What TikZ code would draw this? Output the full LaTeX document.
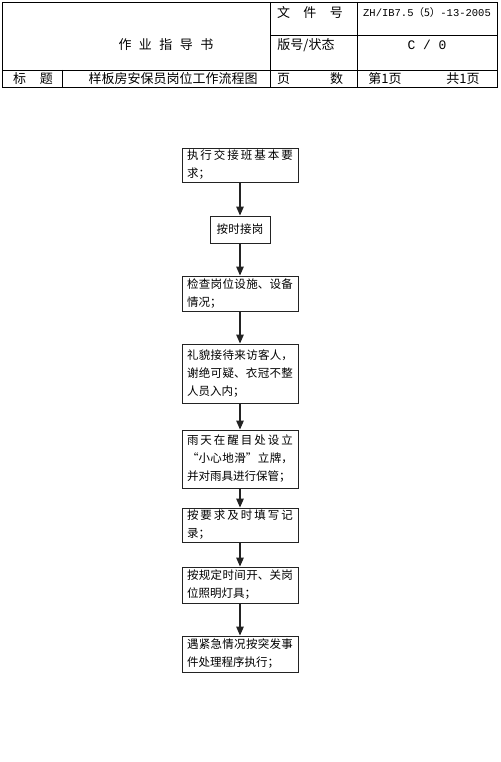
\documentclass[tikz,border=0pt]{standalone}
\usepackage{fontspec}
\setmainfont{Noto Sans CJK SC}
\setmonofont{Liberation Mono}
\XeTeXlinebreaklocale "zh"
\XeTeXlinebreakskip=0pt plus 3pt
\usetikzlibrary{positioning,arrows.meta}
\definecolor{boxgray}{RGB}{35,35,35}

\begin{document}
\begin{tikzpicture}[x=1pt,y=-1pt,
  every node/.style={font=\fontsize{11.5}{18}\selectfont,text=black},
  head/.style={font=\fontsize{13}{15}\selectfont,inner sep=0pt},
  flowbox/.style={draw=boxgray,line width=0.9pt,rectangle,text width=106pt,inner xsep=5pt,inner ysep=2pt,align=justify},
  flowarrow/.style={-{Triangle[length=9pt,width=7.5pt]},line width=1.3pt,draw=boxgray}]
\useasboundingbox (0,0) rectangle (500,762);
% header table
\draw[line width=0.8pt] (2,2) rectangle (497,87);
\draw[line width=0.8pt] (270,2) -- (270,87); \draw[line width=0.8pt] (357,2) -- (357,87);
\draw[line width=0.8pt] (270,35) -- (497,35); \draw[line width=0.8pt] (2,70) -- (497,70);
\draw[line width=0.8pt] (62,70) -- (62,87);
\node[head] (docno) at (310,13) {\makebox[66pt][s]{文\hfill 件\hfill 号}};
\node[head,font=\fontsize{10.5}{13}\selectfont] (code) at (427,13) {{\ttfamily\fontsize{10.5}{13}\selectfont ZH/IB7.5}（5）{\ttfamily\fontsize{10.5}{13}\selectfont -13-2005}};
\node[head] (book) at (166,45) {\makebox[95pt][s]{作\hfill 业\hfill 指\hfill 导\hfill 书}};
\node[head] (ver) at (306,45) {版号/状态};
\node[head] (state) at (427,45) {\ttfamily C / 0};
\node[head] (label) at (33,78.5) {\makebox[40pt][s]{标\hfill 题}};
\node[head] (title) at (173,78.5) {样板房安保员岗位工作流程图};
\node[head] (pages) at (310,78.5) {\makebox[66pt][s]{页\hfill 数}};
\node[head] (pg) at (385,78.5) {第1页};
\node[head] (tot) at (463,78.5) {共1页};
% flow boxes
\node[flowbox,minimum height=34pt] (1) at (240,165) {执行交接班基本要\linebreak 求；};
\node[flowbox,text width=50pt,align=center,minimum height=27pt] (2) at (240,229.5) {按时接岗};
\node[flowbox,minimum height=35pt] (3) at (240,293.5) {检查岗位设施、设备\linebreak 情况；};
\node[flowbox,minimum height=59pt] (4) at (240,373.5) {礼貌接待来访客人，\linebreak 谢绝可疑、衣冠不整\linebreak 人员入内；};
\node[flowbox,minimum height=58pt] (5) at (240,459) {雨天在醒目处设立\linebreak “小心地滑”立牌，\linebreak 并对雨具进行保管；};
\node[flowbox,minimum height=34pt] (6) at (240,525) {按要求及时填写记\linebreak 录；};
\node[flowbox,minimum height=36pt] (7) at (240,585) {按规定时间开、关岗\linebreak 位照明灯具；};
\node[flowbox,minimum height=36pt] (8) at (240,654) {遇紧急情况按突发事\linebreak 件处理程序执行；};
\draw[flowarrow] (1)--(2); \draw[flowarrow] (2)--(3); \draw[flowarrow] (3)--(4); \draw[flowarrow] (4)--(5);
\draw[flowarrow] (5)--(6); \draw[flowarrow] (6)--(7); \draw[flowarrow] (7)--(8);
\end{tikzpicture}
\end{document}
